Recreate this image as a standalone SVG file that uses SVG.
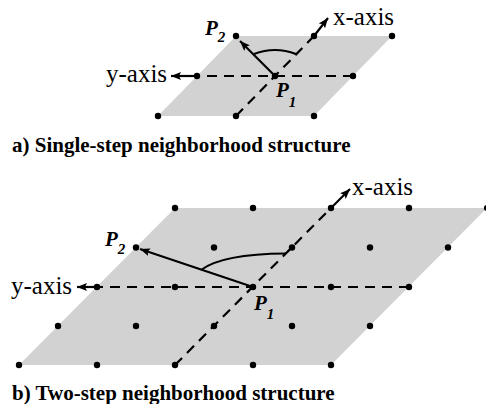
<svg xmlns="http://www.w3.org/2000/svg" width="486" height="404" viewBox="0 0 486 404">
<style>
.plane{fill:#d2d2d2;stroke:none}
.dot{fill:#000}
.dash{stroke:#000;stroke-width:2.2;stroke-dasharray:10 7;fill:none}
.solid{stroke:#000;stroke-width:2.2;fill:none}
.axis{font-family:"Liberation Serif","Times New Roman",serif;font-size:25px;fill:#000}
.pt{font-family:"Liberation Serif","Times New Roman",serif;font-size:21px;font-weight:bold;font-style:italic;fill:#000}
.sub{font-size:15px}
.cap{font-family:"Liberation Serif","Times New Roman",serif;font-size:21px;font-weight:bold;fill:#000}
</style>
<defs>
<marker id="ah" viewBox="0 0 10 8" refX="10" refY="4" markerWidth="10" markerHeight="8" markerUnits="userSpaceOnUse" orient="auto">
<path d="M0,0 L10,4 L0,8 L2,4 z" fill="#000"/>
</marker>
</defs>

<!-- a) single-step -->
<g id="planeA">
<polygon class="plane" points="158,116 314,116 392,36 236,36"/>
</g>
<g id="connectorsA">
<line class="dash" x1="353" y1="76" x2="197" y2="76"/>
<line class="solid" x1="197" y1="76" x2="171" y2="76" marker-end="url(#ah)"/>
<line class="dash" x1="236" y1="116" x2="314" y2="36"/>
<line class="solid" x1="314" y1="36" x2="328" y2="18" marker-end="url(#ah)"/>
<line class="solid" x1="275" y1="76" x2="240" y2="41" marker-end="url(#ah)"/>
<path class="solid" d="M254,54 Q275,46 296,54"/>
</g>
<g id="dotsA">
<circle class="dot" cx="236" cy="36" r="3.2"/>
<circle class="dot" cx="314" cy="36" r="3.2"/>
<circle class="dot" cx="392" cy="36" r="3.2"/>
<circle class="dot" cx="197" cy="76" r="3.2"/>
<circle class="dot" cx="275" cy="76" r="3.2"/>
<circle class="dot" cx="353" cy="76" r="3.2"/>
<circle class="dot" cx="158" cy="116" r="3.2"/>
<circle class="dot" cx="236" cy="116" r="3.2"/>
<circle class="dot" cx="314" cy="116" r="3.2"/>
</g>
<g id="labelsA">
<text class="axis" x="106" y="82">y-axis</text>
<text class="axis" x="333" y="25">x-axis</text>
<text class="pt" x="205" y="35">P<tspan class="sub" dy="7">2</tspan></text>
<text class="pt" x="276" y="97">P<tspan class="sub" dy="10">1</tspan></text>
<text class="cap" x="12" y="152">a) Single-step neighborhood structure</text>
</g>

<!-- b) two-step -->
<g id="planeB">
<polygon class="plane" points="19,365 331,365 487,208 175,208"/>
</g>
<g id="connectorsB">
<line class="dash" x1="409" y1="287" x2="97" y2="287"/>
<line class="solid" x1="97" y1="287" x2="77" y2="287" marker-end="url(#ah)"/>
<line class="dash" x1="175" y1="365" x2="331" y2="208"/>
<line class="solid" x1="331" y1="208" x2="350" y2="189" marker-end="url(#ah)"/>
<line class="solid" x1="253" y1="287" x2="140" y2="249" marker-end="url(#ah)"/>
<path class="solid" d="M201,270 Q222,254 286,253.5"/>
</g>
<g id="dotsB">
<circle class="dot" cx="175" cy="208" r="3.2"/>
<circle class="dot" cx="253" cy="208" r="3.2"/>
<circle class="dot" cx="331" cy="208" r="3.2"/>
<circle class="dot" cx="409" cy="208" r="3.2"/>
<circle class="dot" cx="487" cy="208" r="3.2"/>
<circle class="dot" cx="136" cy="247.5" r="3.2"/>
<circle class="dot" cx="214" cy="247.5" r="3.2"/>
<circle class="dot" cx="292" cy="247.5" r="3.2"/>
<circle class="dot" cx="370" cy="247.5" r="3.2"/>
<circle class="dot" cx="448" cy="247.5" r="3.2"/>
<circle class="dot" cx="97" cy="287" r="3.2"/>
<circle class="dot" cx="175" cy="287" r="3.2"/>
<circle class="dot" cx="253" cy="287" r="3.2"/>
<circle class="dot" cx="331" cy="287" r="3.2"/>
<circle class="dot" cx="409" cy="287" r="3.2"/>
<circle class="dot" cx="58" cy="326" r="3.2"/>
<circle class="dot" cx="136" cy="326" r="3.2"/>
<circle class="dot" cx="214" cy="326" r="3.2"/>
<circle class="dot" cx="292" cy="326" r="3.2"/>
<circle class="dot" cx="370" cy="326" r="3.2"/>
<circle class="dot" cx="19" cy="365" r="3.2"/>
<circle class="dot" cx="97" cy="365" r="3.2"/>
<circle class="dot" cx="175" cy="365" r="3.2"/>
<circle class="dot" cx="253" cy="365" r="3.2"/>
<circle class="dot" cx="331" cy="365" r="3.2"/>
</g>
<g id="labelsB">
<text class="axis" x="11" y="294">y-axis</text>
<text class="axis" x="352" y="195">x-axis</text>
<text class="pt" x="105" y="246">P<tspan class="sub" dy="8">2</tspan></text>
<text class="pt" x="254" y="310">P<tspan class="sub" dy="9">1</tspan></text>
<text class="cap" x="12" y="400">b) Two-step neighborhood structure</text>
</g>
</svg>
